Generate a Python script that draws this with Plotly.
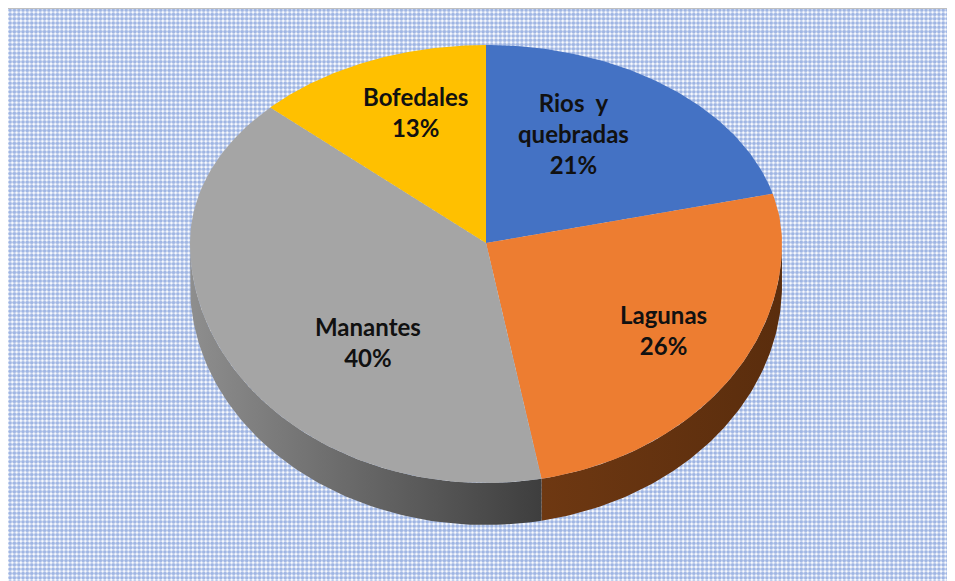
import math
import plotly.graph_objects as go

# datos del grafico
categorias = ["Rios  y<br>quebradas", "Lagunas", "Manantes", "Bofedales"]
porcentajes = [21, 26, 40, 13]
colores_cara = ["#4472C4", "#ED7D31", "#A5A5A5", "#FFC000"]
colores_lado = [["#2F528F", "#2F528F"], ["#6E3812", "#5A2D0D"],
                ["#8E8E8E", "#3E3E3E"], ["#B38600", "#B38600"]]

W, H = 955, 581
OFF = 8                  # margen del body de la pagina
CX, CY = 486, 243        # centro del pastel
RX, RT, RB = 296, 198, 240  # radio horizontal, semi-eje superior, inferior
PROF = 42                # espesor


def punto(t, dy=0.0):
    c = math.cos(t)
    r = RT if c > 0 else RB
    return CX + RX * math.sin(t), CY - r * c + dy


def arco(a, b, dy=0.0, n=80):
    pts = [punto(a + (b - a) * i / n, dy) for i in range(n + 1)]
    return [p[0] for p in pts], [p[1] for p in pts]


fig = go.Figure()

# fondo punteado
fig.add_trace(go.Scatter(
    x=[960, 7, 7, 960], y=[8, 8, 590, 590],
    mode="lines", fill="toself",
    line=dict(color="#BFBFBF", width=2),
    fillcolor="white",
    fillpattern=dict(shape=".", fgcolor="#3F6CC8", bgcolor="white", size=4.3, solidity=0.65),
    hoverinfo="skip", showlegend=False,
))

total = sum(porcentajes)
angulos = []
acum = 0
for v in porcentajes:
    a0 = acum / total * 2 * math.pi
    acum += v
    a1 = acum / total * 2 * math.pi
    angulos.append((a0, a1))

# paredes laterales (solo la mitad frontal es visible)
for (a0, a1), cl in zip(angulos, colores_lado):
    s0, s1 = max(a0, math.pi / 2), min(a1, 3 * math.pi / 2)
    if s1 <= s0:
        continue
    xt, yt = arco(s0, s1)
    xb, yb = arco(s1, s0, PROF)
    fig.add_trace(go.Scatter(
        x=xt + xb + [xt[0]], y=yt + yb + [yt[0]],
        mode="lines", fill="toself", line=dict(width=0, color=cl[1]),
        fillgradient=dict(type="horizontal", colorscale=[[0, cl[0]], [1, cl[1]]]),
        hoverinfo="skip", showlegend=False,
    ))

# cara superior
for (a0, a1), col, nom, v in zip(angulos, colores_cara, categorias, porcentajes):
    xa, ya = arco(a0, a1)
    fig.add_trace(go.Scatter(
        x=[CX] + xa + [CX], y=[CY] + ya + [CY],
        mode="lines", fill="toself", fillcolor=col, line=dict(width=0, color=col),
        name=nom.replace("<br>", " "), hovertemplate=f"{nom.replace('<br>', ' ')}: {v}%<extra></extra>",
        showlegend=False,
    ))

# etiquetas
pos_etiquetas = [(573, 133), (663, 330), (368, 342), (415, 112)]
for (x, y), nom, v in zip(pos_etiquetas, categorias, porcentajes):
    fig.add_annotation(
        x=x, y=y, text=f"<b>{nom}<br>{v}%</b>", showarrow=False,
        font=dict(family="Lato, 'Liberation Sans', sans-serif", size=24, color="#111111"),
        align="center",
    )

fig.update_layout(
    width=W - OFF, height=H - OFF,
    margin=dict(l=0, r=0, t=0, b=0),
    paper_bgcolor="white", plot_bgcolor="white",
    xaxis=dict(range=[OFF, W], visible=False, fixedrange=True),
    yaxis=dict(range=[H, OFF], visible=False, fixedrange=True),
    showlegend=False,
)

fig.write_html("out.html")
